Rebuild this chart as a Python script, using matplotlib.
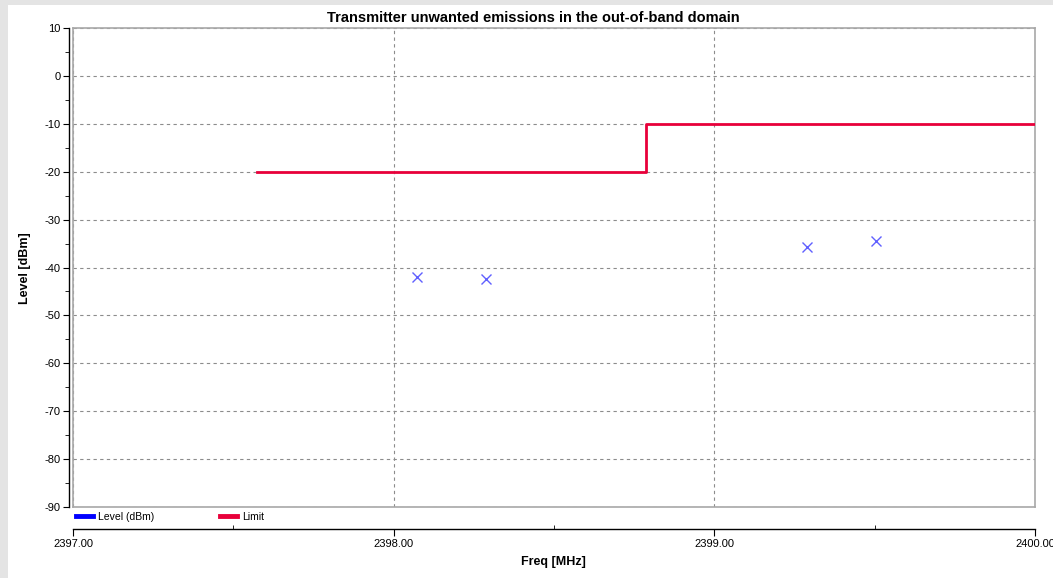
import matplotlib
matplotlib.use("Agg")
import matplotlib.pyplot as plt
from matplotlib.lines import Line2D
from matplotlib.ticker import MultipleLocator, FormatStrFormatter
from matplotlib.patches import Rectangle

# data
meas_freq = [2398.073, 2398.288, 2399.289, 2399.504]
meas_level = [-41.9, -42.5, -35.8, -34.4]
limit_freq = [2397.574, 2398.787, 2398.787, 2400.0]
limit_level = [-20, -20, -10, -10]

title = "Transmitter unwanted emissions in the out-of-band domain"
xlab = "Freq [MHz]"
ylab = "Level [dBm]"

plt.rcParams['font.family'] = ['Liberation Sans Narrow', 'Liberation Sans', 'DejaVu Sans']
plt.rcParams['axes.unicode_minus'] = False
bold_font = ['Liberation Sans', 'DejaVu Sans']

W, H = 1053, 578
fig = plt.figure(figsize=(W / 100, H / 100), dpi=100)
fig.patch.set_facecolor('#e4e4e4')
# white panel
fig.patches.append(Rectangle((8 / W, 0), 1, 1 - 5 / H, transform=fig.transFigure,
                             facecolor='white', edgecolor='none', zorder=-5))

def fx(px):
    return px / W

def fy(py):
    return 1 - py / H

L, R, T, B = 73, 1035, 28, 507
ax = fig.add_axes([fx(L), fy(B), fx(R) - fx(L), fy(T) - fy(B)])
ax.set_xlim(2397, 2400)
ax.set_ylim(-90, 10)
for s in ax.spines.values():
    s.set_color('#a8a8a8')
    s.set_linewidth(1.2)

ax.plot(limit_freq, limit_level, color='#e8003a', lw=2, zorder=3)
ax.plot(meas_freq, meas_level, ls='none', marker='x', ms=7, mew=1,
        color='#6060ff', zorder=4)

# separate y axis
ay = fig.add_axes([fx(69), fy(B), 0.001, fy(T) - fy(B)], sharey=ax)
for k in ['top', 'right', 'bottom']:
    ay.spines[k].set_visible(False)
ay.spines['left'].set_linewidth(1)
ay.set_xticks([])
ay.yaxis.set_major_locator(MultipleLocator(10))
ay.yaxis.set_minor_locator(MultipleLocator(5))
ay.tick_params(axis='y', which='major', length=4, labelsize=8, pad=2)
ay.tick_params(axis='y', which='minor', length=3)
ay.patch.set_visible(False)

# separate x axis
axx = fig.add_axes([fx(L), fy(529), fx(R) - fx(L), 0.001], sharex=ax)
for k in ['top', 'right', 'left']:
    axx.spines[k].set_visible(False)
axx.spines['bottom'].set_linewidth(1)
axx.set_yticks([])
axx.xaxis.set_major_locator(MultipleLocator(1))
axx.xaxis.set_minor_locator(MultipleLocator(0.5))
axx.xaxis.set_major_formatter(FormatStrFormatter('%.2f'))
axx.tick_params(axis='x', which='major', length=5, labelsize=8, pad=2)
axx.tick_params(axis='x', which='minor', direction='in', length=3)
axx.patch.set_visible(False)

# main axes: grid only, no ticks
ax.tick_params(which='both', length=0, labelbottom=False, labelleft=False)
ax.grid(True, which='major', ls=(0, (3, 3)), color='#8c8c8c', lw=0.8)
ax.grid(False, which='minor')

fig.text(fx(533), fy(18), title, ha='center', va='center', fontsize=10.5,
         fontweight='bold', family=bold_font)
fig.text(fx(553), fy(562), xlab, ha='center', va='center', fontsize=9,
         fontweight='bold', family=bold_font)
fig.text(fx(25), fy(268), ylab, ha='center', va='center', fontsize=9,
         fontweight='bold', family=bold_font, rotation=90)

handles = [Line2D([], [], color='#0000ff', lw=3.5), Line2D([], [], color='#e8003a', lw=3.5)]
ax.legend(handles, ['Level (dBm)', 'Limit'], loc='upper left', bbox_to_anchor=(0.0, -0.003),
          ncol=2, frameon=False, fontsize=7.5, handlelength=1.6, handletextpad=0.5,
          columnspacing=6.3, borderaxespad=0.1, borderpad=0.2)

fig.savefig('out.png', dpi=100)
